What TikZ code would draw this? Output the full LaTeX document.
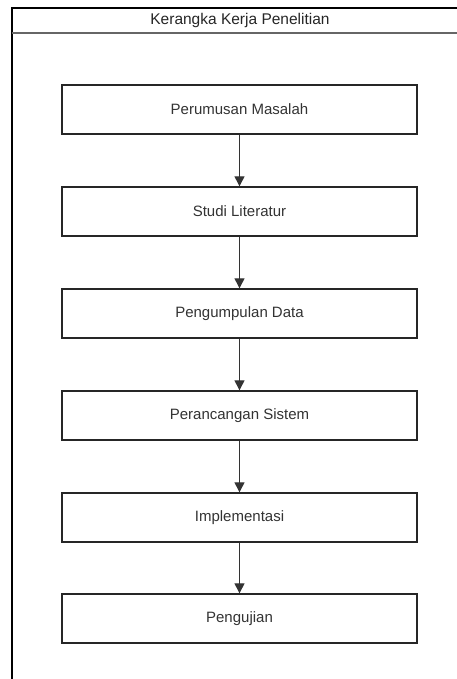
\documentclass[tikz,border=0pt]{standalone}
\usepackage{fontspec}
\setmainfont{Liberation Sans}
\usetikzlibrary{arrows.meta}
\begin{document}
\begin{tikzpicture}[x=1pt,y=-1pt,
  stepbox/.style={draw=black!85, line width=1.4pt, minimum width=355pt, minimum height=49pt, inner sep=0pt, text=black!80, font=\fontsize{15}{18}\selectfont},
  flow/.style={draw=black!80, line width=1.3pt, -{Triangle[length=10pt,width=10pt]}}]
\useasboundingbox (0,0) rectangle (457,679);
\fill[white] (0,0) rectangle (457,679);
\begin{scope}
\clip (0,0) rectangle (457,679);
\draw[black, line width=1.6pt] (12,690) -- (12,8) -- (470,8);
\draw[black!60, line width=2pt] (12,33) -- (470,33);
\end{scope}
\node[text=black!85, font=\fontsize{15.5}{18}\selectfont] (title) at (240,20.5) {Kerangka Kerja Penelitian};
\node[stepbox] (s1) at (239.5,109.5) {Perumusan Masalah};
\node[stepbox] (s2) at (239.5,211.5) {Studi Literatur};
\node[stepbox] (s3) at (239.5,313.5) {Pengumpulan Data};
\node[stepbox] (s4) at (239.5,415.5) {Perancangan Sistem};
\node[stepbox] (s5) at (239.5,517.5) {Implementasi};
\node[stepbox] (s6) at (239.5,618.5) {Pengujian};
\draw[flow] (s1) -- (s2);
\draw[flow] (s2) -- (s3);
\draw[flow] (s3) -- (s4);
\draw[flow] (s4) -- (s5);
\draw[flow] (s5) -- (s6);
\end{tikzpicture}
\end{document}
